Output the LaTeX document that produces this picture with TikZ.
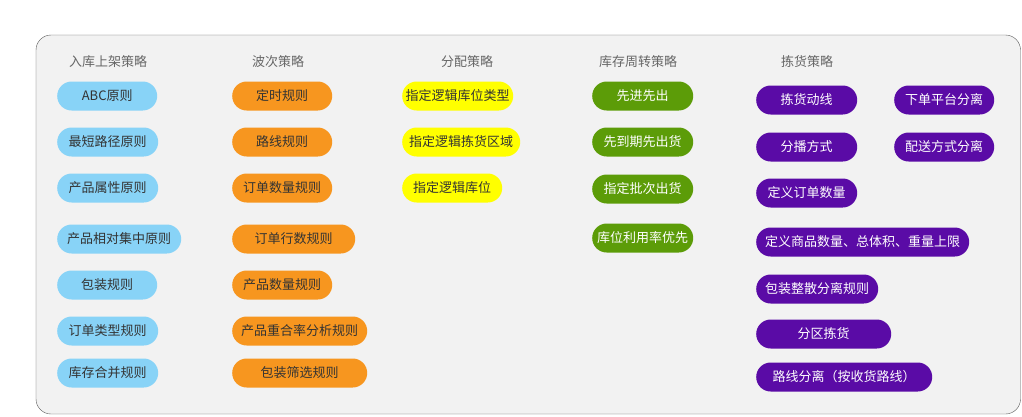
\documentclass[tikz,border=0pt]{standalone}
\usepackage{fontspec}
\setmainfont{Noto Sans CJK SC}
\definecolor{inbound}{HTML}{88D3F7}
\definecolor{wave}{HTML}{F7961F}
\definecolor{alloc}{HTML}{FFFF00}
\definecolor{turnover}{HTML}{5C9C08}
\definecolor{picking}{HTML}{5A0BA6}
\begin{document}
\begin{tikzpicture}[x=1pt, y=-1pt, every node/.style={font=\fontsize{13pt}{15pt}\selectfont},
    title/.style={text=black!60},
    pill/.style={anchor=west, minimum height=29pt, inner sep=0pt, rounded corners=14.5pt, text=black!80},
    inpill/.style={pill, fill=inbound},
    wavepill/.style={pill, fill=wave},
    allocpill/.style={pill, fill=alloc},
    turnpill/.style={pill, fill=turnover, text=white},
    pickpill/.style={pill, fill=picking, text=white}]
    \useasboundingbox (0,0) rectangle (1022,416);
    \draw[black!65, fill=black!5, rounded corners=15pt] (36,35) rectangle (1020.5,414);

    \node[title] (t1) at (108,62) {入库上架策略};
    \node[title] (t2) at (278,62) {波次策略};
    \node[title] (t3) at (467,62) {分配策略};
    \node[title] (t4) at (638,62) {库存周转策略};
    \node[title] (t5) at (807,62) {拣货策略};

    % inbound
    \node[inpill, minimum width=100pt] (in1) at (57,96) {ABC原则};
    \node[inpill, minimum width=101pt] (in2) at (57,142) {最短路径原则};
    \node[inpill, minimum width=101pt] (in3) at (57,188) {产品属性原则};
    \node[inpill, minimum width=124pt] (in4) at (57,239) {产品相对集中原则};
    \node[inpill, minimum width=100pt] (in5) at (57,285) {包装规则};
    \node[inpill, minimum width=101pt] (in6) at (57,331) {订单类型规则};
    \node[inpill, minimum width=101pt] (in7) at (57,373) {库存合并规则};

    % wave
    \node[wavepill, minimum width=100pt] (wv1) at (232,96) {定时规则};
    \node[wavepill, minimum width=100pt] (wv2) at (232,142) {路线规则};
    \node[wavepill, minimum width=100pt] (wv3) at (232,188) {订单数量规则};
    \node[wavepill, minimum width=123pt] (wv4) at (232,239) {订单行数规则};
    \node[wavepill, minimum width=100pt] (wv5) at (232,285) {产品数量规则};
    \node[wavepill, minimum width=135pt] (wv6) at (232,331) {产品重合率分析规则};
    \node[wavepill, minimum width=135pt] (wv7) at (232,373) {包装筛选规则};

    % allocation
    \node[allocpill, minimum width=111pt] (al1) at (402,96) {指定逻辑库位类型};
    \node[allocpill, minimum width=118pt] (al2) at (402,142) {指定逻辑拣货区域};
    \node[allocpill, minimum width=100pt] (al3) at (402,188) {指定逻辑库位};

    % turnover
    \node[turnpill, minimum width=101pt] (tu1) at (592,96) {先进先出};
    \node[turnpill, minimum width=101pt] (tu2) at (592,142) {先到期先出货};
    \node[turnpill, minimum width=101pt] (tu3) at (592,189) {指定批次出货};
    \node[turnpill, minimum width=101pt] (tu4) at (592,238) {库位利用率优先};

    % picking
    \node[pickpill, minimum width=101pt] (pk1) at (756,100) {拣货动线};
    \node[pickpill, minimum width=100pt] (pk2) at (894,100) {下单平台分离};
    \node[pickpill, minimum width=101pt] (pk3) at (756,147) {分播方式};
    \node[pickpill, minimum width=100pt] (pk4) at (894,147) {配送方式分离};
    \node[pickpill, minimum width=101pt] (pk5) at (756,193) {定义订单数量};
    \node[pickpill, minimum width=213pt] (pk6) at (756,242) {定义商品数量、总体积、重量上限};
    \node[pickpill, minimum width=122pt] (pk7) at (756,289) {包装整散分离规则};
    \node[pickpill, minimum width=135pt] (pk8) at (756,334) {分区拣货};
    \node[pickpill, minimum width=176pt] (pk9) at (756,377) {路线分离（按收货路线）};
\end{tikzpicture}
\end{document}
